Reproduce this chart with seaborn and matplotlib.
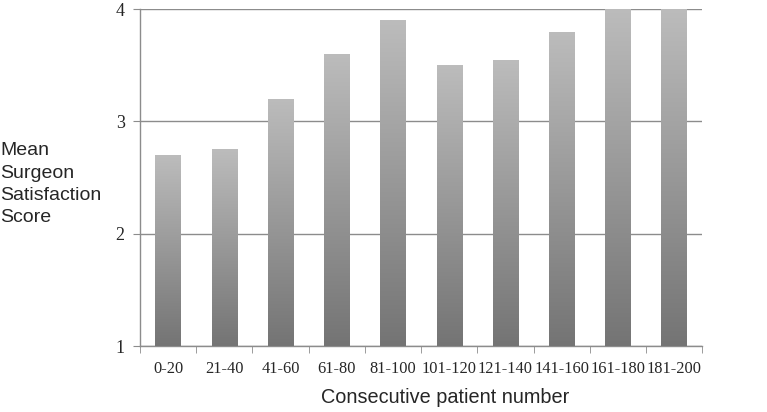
import numpy as np
import pandas as pd
import seaborn as sns
import matplotlib.pyplot as plt
from matplotlib.colors import LinearSegmentedColormap

# data
groups = ['0-20', '21-40', '41-60', '61-80', '81-100',
          '101-120', '121-140', '141-160', '161-180', '181-200']
scores = [2.70, 2.75, 3.20, 3.60, 3.90, 3.50, 3.55, 3.80, 4.00, 4.00]

df = pd.DataFrame({'group': groups, 'score': scores})

sns.set_style('white')
plt.rcParams['font.family'] = ['Liberation Sans', 'DejaVu Sans']

fig = plt.figure(figsize=(7.67, 4.12), dpi=100)
ax = fig.add_axes([0.1825, 0.160, 0.733, 0.818])

sns.barplot(data=df, x='group', y='score', color='#999999', width=0.45,
            ax=ax, zorder=3)

# gradient fill on each bar: dark at the base, light at the top
grad_cmap = LinearSegmentedColormap.from_list('bar_grad', ['#747474', '#bcbcbc'])
grad = np.linspace(0, 1, 256).reshape(-1, 1)
for patch in ax.patches:
    x0, w = patch.get_x(), patch.get_width()
    top = patch.get_y() + patch.get_height()
    patch.set_facecolor('none')
    patch.set_edgecolor('none')
    im = ax.imshow(grad, cmap=grad_cmap, origin='lower', aspect='auto',
                   extent=[x0, x0 + w, 1, top], zorder=3)
    im.set_clip_path(patch)

ax.set_xlim(-0.5, len(groups) - 0.5)
ax.set_ylim(1, 4)

# gridlines and axes
ax.set_yticks([1, 2, 3, 4])
ax.yaxis.grid(True, color='#8c8c8c', linewidth=1.0, zorder=0)
ax.set_axisbelow(True)
sns.despine(ax=ax, top=True, right=True)
for side in ['left', 'bottom']:
    ax.spines[side].set_color('#8c8c8c')
    ax.spines[side].set_linewidth(1.0)

serif = ['Liberation Serif', 'DejaVu Serif']
ax.set_xticks(np.arange(len(groups)))
ax.set_xticklabels(groups, family=serif, fontsize=11.8)
ax.set_yticklabels(['1', '2', '3', '4'], family=serif, fontsize=13)
ax.tick_params(axis='x', length=0, pad=11)
ax.tick_params(axis='y', length=5, color='#8c8c8c', direction='out', left=True, pad=6)

# boundary tick marks between categories
ax.set_xticks(np.arange(-0.5, len(groups), 1), minor=True)
ax.tick_params(axis='x', which='minor', length=5, color='#8c8c8c', direction='out', bottom=True)

ax.set_xlabel('Consecutive patient number', fontsize=14.3, labelpad=8)
ax.xaxis.label.set_x(0.543)
ax.set_ylabel('')
fig.text(0.0, 0.553, 'Mean\nSurgeon\nSatisfaction\nScore', fontsize=14,
         ha='left', va='center', linespacing=1.4)

fig.savefig('out.png', dpi=100)
